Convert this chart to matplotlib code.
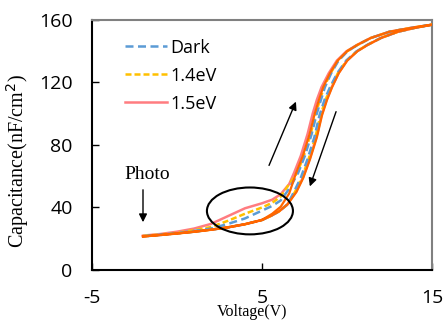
import matplotlib
matplotlib.use("Agg")
import matplotlib.pyplot as plt
from matplotlib.patches import Ellipse

plt.rcParams["axes.unicode_minus"] = False

# return sweep (shared by all measurements)
v_down = [-2.0, -1.0, 0.0, 1.0, 2.0, 3.0, 4.0, 5.0, 5.5, 6.0, 6.5, 7.0, 7.4, 7.8, 8.2, 8.5,
          8.8, 9.1, 9.5, 10.0, 10.6, 11.2, 12.0, 13.0, 14.0, 15.0]
c_down = [21.5, 22.4, 23.4, 24.5, 25.8, 27.3, 29.3, 32.0, 34.5, 37.5, 42.0, 50.0, 59.0, 71.0, 85.0, 99.0,
          109.0, 117.0, 126.0, 134.0, 140.0, 144.0, 148.5, 152.5, 155.0, 157.0]

# forward sweep, steep part (shared)
v_up_top = [7.0, 7.4, 7.8, 8.1, 8.35, 8.6, 9.0, 9.45, 10.0, 10.6, 11.4, 12.5, 13.8, 15.0]
c_up_top = [62.0, 73.0, 87.0, 100.0, 109.0, 117.0, 126.0, 134.0, 140.0, 144.0, 148.5, 152.5, 155.0, 157.0]

# forward sweep, low voltage part, per measurement
v_up_low = [-2.0, -1.0, 0.0, 1.0, 2.0, 3.0, 4.0, 5.0, 5.6, 6.1, 6.6]
c_dark = [21.6, 22.5, 23.6, 25.0, 26.5, 29.5, 33.0, 38.0, 41.0, 44.5, 52.0]
c_14 = [21.8, 22.7, 23.8, 25.5, 27.5, 31.5, 36.0, 40.0, 43.0, 47.0, 55.0]
c_15 = [22.0, 23.0, 24.5, 26.5, 29.5, 34.5, 39.5, 42.7, 45.0, 48.5, 55.0]
c_ref = [21.5, 22.4, 23.4, 24.5, 25.8, 27.3, 29.3, 32.0, 36.0, 40.5, 49.0]

fig = plt.figure(figsize=(4.44, 3.24), dpi=100)
ax = fig.add_axes([0.2072, 0.1667, 0.7658, 0.7716])


def shifted(v, c, dv):
    # small horizontal offset in the steep region so overlapping traces stay visible
    return [x + dv * min(1.0, max(0.0, (150 - y) / 40)) if y > 45 else x for x, y in zip(v, c)]


def loop(c_low, dv_up, dv_down, **kw):
    x = v_up_low + shifted(v_up_top, c_up_top, dv_up) + shifted(v_down, c_down, dv_down)[::-1]
    y = c_low + c_up_top + c_down[::-1]
    return ax.plot(x, y, **kw)


loop(c_15, -0.12, 0.0, color="#FF7C80", lw=1.8, label="1.5eV", zorder=2)
loop(c_14, 0.06, -0.06, color="#FFC000", lw=1.8, dashes=(2.4, 1.2), label="1.4eV", zorder=3)
loop(c_dark, 0.12, -0.12, color="#5B9BD5", lw=1.8, dashes=(3.2, 1.8), label="Dark", zorder=4)
loop(c_ref, 0.0, 0.03, color="#FF6600", lw=1.6, zorder=5)

ax.set_xlim(-5, 15)
ax.set_ylim(0, 160)
ax.set_xticks([-5, 5, 15])
ax.set_yticks([0, 40, 80, 120, 160])
ax.tick_params(direction="in", length=5, width=1, labelsize=14, pad=14)
for lab in ax.get_xticklabels() + ax.get_yticklabels():
    lab.set_family("Open Sans")
for s in ["left", "bottom"]:
    ax.spines[s].set_color("black")
    ax.spines[s].set_linewidth(1.5)
for s in ["top", "right"]:
    ax.spines[s].set_color("#808080")
    ax.spines[s].set_linewidth(1.5)

ax.set_ylabel("Capacitance(nF/cm$^2$)", family="Liberation Serif", fontsize=14.5)
ax.yaxis.set_label_coords(-0.18, 0.434)
fig.text(0.567, 0.025, "Voltage(V)", family="Liberation Serif", fontsize=11.5, ha="center", va="baseline")

handles, labels = ax.get_legend_handles_labels()
order = [labels.index(n) for n in ["Dark", "1.4eV", "1.5eV"]]
ax.legend([handles[i] for i in order], [labels[i] for i in order],
          loc="upper left", bbox_to_anchor=(0.05, 0.99), frameon=False,
          prop={"family": "Open Sans", "size": 13}, handlelength=2.3,
          handletextpad=0.2, labelspacing=0.55)

ax.add_patch(Ellipse((4.29, 37.8), 5.06, 30, fill=False, color="black", lw=1.5, zorder=6))
ax.text(-1.76, 60.8, "Photo", family="Liberation Serif", fontsize=14, ha="center", va="center")
ax.annotate("", xy=(-2.0, 28.8), xytext=(-2.0, 53.1),
            arrowprops=dict(arrowstyle="-|>", color="black", lw=1, mutation_scale=12))
ax.annotate("", xy=(7.06, 109.4), xytext=(5.35, 65.3),
            arrowprops=dict(arrowstyle="-|>", color="black", lw=1, mutation_scale=12))
ax.annotate("", xy=(7.76, 51.8), xytext=(9.41, 103),
            arrowprops=dict(arrowstyle="-|>", color="black", lw=1, mutation_scale=12))

fig.savefig("out.png", dpi=100)
